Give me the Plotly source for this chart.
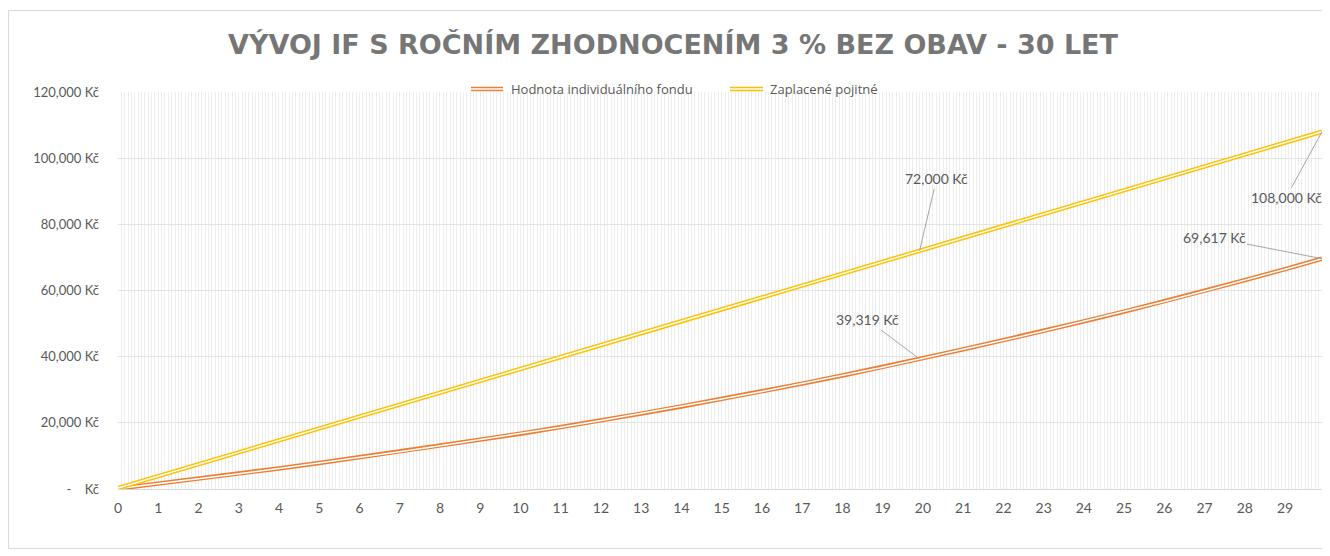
import plotly.graph_objects as go

# month index (0..359) of the plotted points
mesice = [0, 12, 24, 36, 48, 60, 72, 84, 96, 108, 120, 132, 144, 156, 168, 180,
          192, 204, 216, 228, 239, 240, 252, 264, 276, 288, 300, 312, 324, 336, 348, 359]

hodnota_fondu = [120, 1570, 3070, 4620, 6210, 7860, 9550, 11290, 13090, 14940, 16700,
                 18650, 20680, 22780, 24950, 27180, 29480, 31850, 34300, 36820, 39319,
                 39540, 42200, 44940, 47760, 50670, 53620, 56690, 59850, 63100, 66440, 69617]

zaplacene_pojistne = [300, 3900, 7500, 11100, 14700, 18300, 21900, 25500, 29100, 32700,
                      36300, 39900, 43500, 47100, 50700, 54300, 57900, 61500, 65100, 68700,
                      72000, 72300, 75900, 79500, 83100, 86700, 90300, 93900, 97500,
                      101100, 104700, 108000]

roky_tick = [12 * r for r in range(30)]
roky_text = [str(r) for r in range(30)]

y_tick = [0, 20000, 40000, 60000, 80000, 100000, 120000]
y_text = ["-\u00a0\u00a0\u00a0\u00a0Kč", "20,000 Kč", "40,000 Kč", "60,000 Kč",
          "80,000 Kč", "100,000 Kč", "120,000 Kč"]

nazvy = ["Hodnota individuálního fondu", "Zaplacené pojitné"]
barvy = ["#ED7D31", "#FFC000"]

# the page body has an 8px margin, so the figure is drawn 8px in and smaller
OFF = 8
W, H = 1330 - OFF, 556 - OFF
L, R, T, B = 118 - OFF, 1322 - OFF, 92 - OFF, 489 - OFF


def px_x(x):
    return (x - OFF - L) / (R - L)


def px_y(y):
    return (B - (y - OFF)) / (B - T)


fig = go.Figure()
for nazev, barva, hodnoty in zip(nazvy, barvy, [hodnota_fondu, zaplacene_pojistne]):
    # compound (double) line: thick coloured line with a thin white core
    fig.add_trace(go.Scatter(x=mesice, y=hodnoty, mode="lines", name=nazev,
                             line=dict(color=barva, width=4.4), showlegend=False,
                             hoverinfo="skip"))
    fig.add_trace(go.Scatter(x=mesice, y=hodnoty, mode="lines", name=nazev,
                             line=dict(color="white", width=1.5), showlegend=False,
                             hoverinfo="skip"))

seda = "#595959"
popisky = [
    (239, zaplacene_pojistne[mesice.index(239)], 17, -72),
    (239, hodnota_fondu[mesice.index(239)], -52, -39),
    (359, zaplacene_pojistne[-1], -36, 66),
    (359, hodnota_fondu[-1], -108, -21),
]
for x, y, ax, ay in popisky:
    fig.add_annotation(x=x, y=y, text=f"{y:,} Kč", showarrow=True, arrowhead=0,
                       arrowwidth=1, arrowcolor="#A6A6A6", ax=ax, ay=ay,
                       font=dict(size=14, color=seda), standoff=0)

# legend drawn by hand to show the double line symbol
legenda = [(471, 503, 509), (730, 763, 768)]
for (x0, x1, xt), nazev, barva in zip(legenda, nazvy, barvy):
    for sirka, c in [(4.4, barva), (1.5, "white")]:
        fig.add_shape(type="line", xref="paper", yref="paper",
                      x0=px_x(x0), x1=px_x(x1), y0=px_y(89), y1=px_y(89),
                      line=dict(color=c, width=sirka))
    fig.add_annotation(xref="paper", yref="paper", x=px_x(xt), y=px_y(89),
                       text=nazev, showarrow=False, xanchor="left", yanchor="middle",
                       font=dict(size=13, color=seda, family="Open Sans, sans-serif"))

# chart border
ram = dict(color="#D9D9D9", width=1)
for x0, y0, x1, y1 in [(8.5, 10.5, 1328.5, 10.5), (8.5, 548.5, 1328.5, 548.5),
                       (8.5, 10.5, 8.5, 548.5), (1328.5, 10.5, 1328.5, 548.5)]:
    fig.add_shape(type="line", xref="paper", yref="paper",
                  x0=px_x(x0), x1=px_x(x1), y0=px_y(y0), y1=px_y(y1),
                  line=ram)

fig.update_layout(
    width=W, height=H,
    margin=dict(l=L, r=W - R, t=T, b=H - B),
    paper_bgcolor="white", plot_bgcolor="white",
    font=dict(family="Lato, Open Sans, sans-serif", color=seda),
    title=dict(text="<b>VÝVOJ IF S ROČNÍM ZHODNOCENÍM 3 % BEZ OBAV - 30 LET</b>",
               x=(673 - OFF) / W, xanchor="center", y=1 - (45 - OFF) / H,
               yanchor="middle",
               font=dict(size=27, color="#767676", family="DejaVu Sans, sans-serif")),
    showlegend=False,
)
fig.update_xaxes(range=[0, 359], tickvals=roky_tick, ticktext=roky_text,
                 showgrid=True, gridcolor="#EDEDED", gridwidth=1,
                 minor=dict(dtick=1, showgrid=True, gridcolor="#EDEDED", gridwidth=1),
                 showline=True, linecolor="#D9D9D9", linewidth=1,
                 ticks="", zeroline=False, tickfont=dict(size=14, color=seda),
                 ticklabelstandoff=6)
fig.update_yaxes(range=[0, 120000], tickvals=y_tick, ticktext=y_text,
                 showgrid=True, gridcolor="#E3E3E3", gridwidth=1, zeroline=False,
                 showline=False, ticks="", tickfont=dict(size=13, color=seda),
                 ticklabelstandoff=18)

fig.write_html("out.html", config={"displayModeBar": False})
